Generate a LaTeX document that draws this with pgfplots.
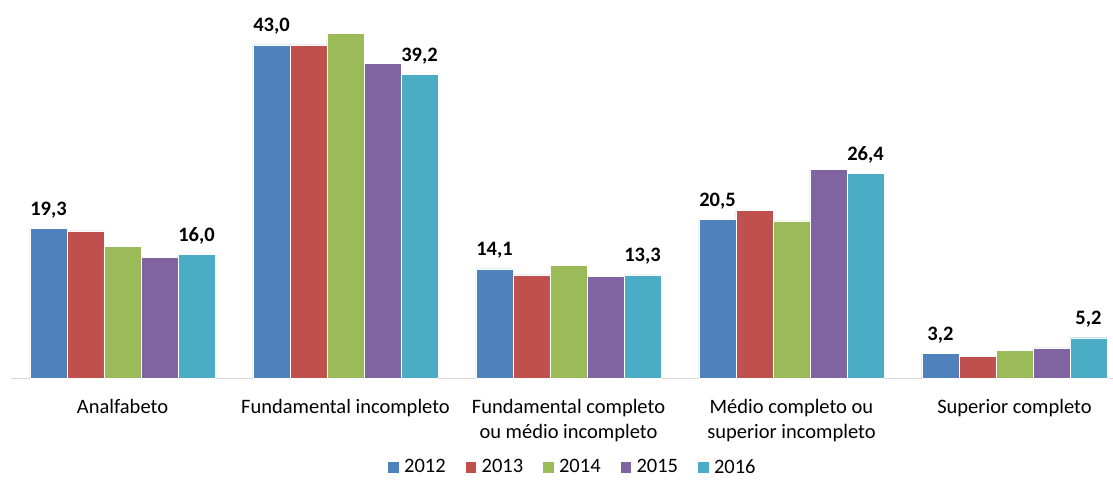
\documentclass[border=0pt]{standalone}
\usepackage{pgfplots}
\pgfplotsset{compat=1.18}
\usepackage{fontspec}
\setmainfont{Carlito}
\definecolor{c1}{HTML}{4F81BD}
\definecolor{c2}{HTML}{C0504D}
\definecolor{c3}{HTML}{9BBB59}
\definecolor{c4}{HTML}{8064A2}
\definecolor{c5}{HTML}{4BACC6}
\begin{document}
\begin{tikzpicture}[x=1pt,y=1pt]
\useasboundingbox (0,0) rectangle (1113,479);
\begin{axis}[
 at={(11pt,101pt)}, anchor=south west,
 scale only axis, width=1101.6pt, height=378pt,
 xmin=-0.5, xmax=4.44, ymin=0, ymax=48.8,
 ybar=0pt, bar width=37pt,
 axis x line*=bottom, axis y line=none,
 x axis line style={draw=black!15, line width=1pt, -},
 xtick={0,...,4},
 xticklabels={Analfabeto, Fundamental incompleto, {Fundamental completo\\ou médio incompleto}, {Médio completo ou\\superior incompleto}, Superior completo},
 major tick length=0pt,
 xticklabel style={align=center, anchor=north, inner sep=0pt, yshift=-21pt, font=\fontsize{20.5}{25}\selectfont},
 ytick=\empty,
 clip=false,
 legend columns=5,
 legend style={at={(0.511,-0.2354)}, anchor=center, draw=none, font=\fontsize{20.5}{25}\selectfont, /tikz/every even column/.append style={column sep=14pt}, nodes={inner xsep=5pt}},
 legend image code/.code={\fill[#1] (0pt,-5.75pt) rectangle (11.5pt,5.75pt);},
 every axis plot/.append style={draw=white, line width=0.4pt},
 vlab/.style={nodes near coords={\pgfmathprintnumber[fixed,fixed zerofill,precision=1,use comma,assume math mode=true]{\pgfplotspointmeta}},
   nodes near coords style={font=\bfseries\fontsize{20.5}{25}\selectfont, text=black, anchor=base, yshift=13pt, inner sep=0pt}},
]
\addplot[fill=c1, vlab] coordinates {(0,19.3)(1,43.0)(2,14.1)(3,20.5)(4,3.2)};
\addplot[fill=c2] coordinates {(0,19.0)(1,43.0)(2,13.3)(3,21.6)(4,2.8)};
\addplot[fill=c3] coordinates {(0,17.0)(1,44.5)(2,14.5)(3,20.3)(4,3.6)};
\addplot[fill=c4] coordinates {(0,15.6)(1,40.6)(2,13.1)(3,26.9)(4,3.9)};
\addplot[fill=c5, vlab] coordinates {(0,16.0)(1,39.2)(2,13.3)(3,26.4)(4,5.2)};
\legend{2012,2013,2014,2015,2016}
\end{axis}
\end{tikzpicture}
\end{document}
